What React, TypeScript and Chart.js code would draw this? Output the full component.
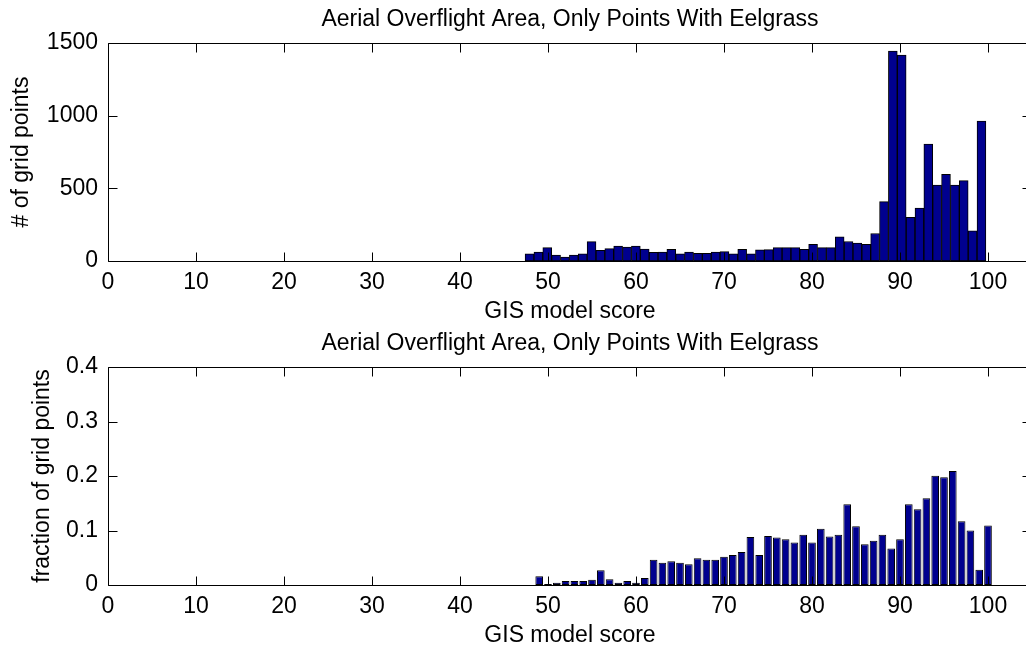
import React, { useEffect, useRef } from 'react';
import { Chart, registerables } from 'chart.js';

Chart.register(...registerables);

const FONT = '"Liberation Sans", Arial, Helvetica, sans-serif';
const FONT_SIZE = 23;

const TITLE = 'Aerial Overflight Area, Only Points With Eelgrass';
const X_LABEL = 'GIS model score';
const TOP_Y_LABEL = '# of grid points';
const BOTTOM_Y_LABEL = 'fraction of grid points';

const X_TICKS = [0, 10, 20, 30, 40, 50, 60, 70, 80, 90, 100];
const TOP_Y_TICKS = [0, 500, 1000, 1500];
const BOTTOM_Y_TICKS = [0, 0.1, 0.2, 0.3, 0.4];

// histogram bins (top panel)
const TOP_BIN_FIRST_CENTER = 47.9;
const TOP_BIN_WIDTH = 1.007;
const topCounts = [
  50, 62, 92, 41, 27, 41, 50, 133, 73, 85,
  103, 96, 103, 82, 60, 62, 80, 50, 62, 53,
  53, 62, 64, 50, 80, 50, 76, 78,
  92, 92, 92, 81, 115, 92, 92, 166, 134, 124,
  115, 189, 408, 1445, 1417, 300, 364, 804, 523, 597,
  523, 553, 207, 963,
];
const topBinCenters = topCounts.map((_, i) => TOP_BIN_FIRST_CENTER + i * TOP_BIN_WIDTH);

// bottom panel
const bottomScores = [
  49, 50, 51, 52, 53, 54, 55, 56, 57, 58, 59, 60, 61, 62, 63, 64, 65, 66, 67, 68,
  69, 70, 71, 72, 73, 74, 75, 76, 77, 78, 79, 80, 81, 82, 83, 84, 85, 86, 87, 88,
  89, 90, 91, 92, 93, 94, 95, 96, 97, 98, 99, 100,
];
const bottomFractions = [
  0.016, 0.002, 0.004, 0.0073, 0.0073, 0.0073, 0.0098, 0.027, 0.0104, 0.004,
  0.0073, 0.004, 0.0128, 0.0465, 0.041, 0.0434, 0.041, 0.038, 0.049, 0.0465,
  0.0465, 0.052, 0.055, 0.0606, 0.088, 0.055, 0.09, 0.087, 0.084, 0.078,
  0.092, 0.078, 0.103, 0.089, 0.092, 0.148, 0.108, 0.075, 0.081, 0.092,
  0.067, 0.084, 0.148, 0.139, 0.159, 0.2006, 0.1976, 0.209, 0.117, 0.1,
  0.028, 0.109,
];

const BAR_COLOR = '#00008F';
const TICK_LEN = 9;

type PanelOpts = {
  title: string;
  xLabel: string;
  yLabel: string;
  titleY: number;
  xLabelY: number;
  yLabelX: number;
};

const framePlugin = (o: PanelOpts) => ({
  id: 'matlabFrame',
  afterDraw(chart: any) {
    const { ctx, chartArea } = chart;
    const { left, right, top, bottom } = chartArea;
    const xs = chart.scales.x;
    const ys = chart.scales.y;
    ctx.save();
    ctx.strokeStyle = '#000';
    ctx.lineWidth = 1;
    const L = Math.round(left) + 0.5;
    const R = Math.round(right) - 0.5;
    const T = Math.round(top) + 0.5;
    const B = Math.round(bottom) + 0.5;
    ctx.beginPath();
    ctx.moveTo(L, T);
    ctx.lineTo(R, T);
    ctx.lineTo(R, B);
    ctx.lineTo(L, B);
    ctx.closePath();
    ctx.stroke();
    ctx.beginPath();
    for (const t of xs.ticks) {
      const px = Math.round(xs.getPixelForValue(t.value)) + 0.5;
      ctx.moveTo(px, B);
      ctx.lineTo(px, B - TICK_LEN);
      ctx.moveTo(px, T);
      ctx.lineTo(px, T + TICK_LEN);
    }
    for (const t of ys.ticks) {
      const py = Math.round(ys.getPixelForValue(t.value)) + 0.5;
      ctx.moveTo(L, py);
      ctx.lineTo(L + TICK_LEN, py);
      ctx.moveTo(R, py);
      ctx.lineTo(R - TICK_LEN, py);
    }
    ctx.stroke();

    ctx.fillStyle = '#000';
    ctx.font = `${FONT_SIZE}px ${FONT}`;
    ctx.textAlign = 'center';
    ctx.textBaseline = 'alphabetic';
    const cx = (left + right) / 2;
    ctx.fillText(o.title, cx, o.titleY);
    ctx.fillText(o.xLabel, cx, o.xLabelY);
    ctx.translate(o.yLabelX, (top + bottom) / 2);
    ctx.rotate(-Math.PI / 2);
    ctx.textBaseline = 'middle';
    ctx.fillText(o.yLabel, 0, 0);
    ctx.restore();
  },
});

function makeChart(
  canvas: HTMLCanvasElement,
  data: { x: number; y: number }[],
  barPct: number,
  yMax: number,
  yTicks: number[],
  yFmt: (v: number) => string,
  padTop: number,
  xAxisHeight: number,
  panel: PanelOpts
) {
  const tickFont = { family: FONT, size: FONT_SIZE };
  return new Chart(canvas, {
    type: 'bar',
    data: {
      datasets: [
        {
          data: data as any,
          backgroundColor: BAR_COLOR,
          borderColor: '#000',
          borderWidth: 1,
          borderSkipped: false,
          barPercentage: barPct,
          categoryPercentage: 1,
        },
      ],
    },
    options: {
      responsive: false,
      animation: false,
      devicePixelRatio: 1,
      layout: { padding: { top: padTop, left: 0, right: 8, bottom: 0 } },
      plugins: {
        legend: { display: false },
        tooltip: { enabled: false },
        title: { display: false },
      },
      scales: {
        x: {
          type: 'linear',
          min: 0,
          max: 105,
          offset: false,
          grid: { display: false, drawTicks: false },
          border: { display: false },
          ticks: {
            font: tickFont,
            color: '#000',
            padding: 8,
            maxRotation: 0,
            autoSkip: false,
            callback: (v: any) => String(v),
          },
          afterBuildTicks: (s: any) => {
            s.ticks = X_TICKS.map((v) => ({ value: v }));
          },
          afterFit: (s: any) => {
            s.height = xAxisHeight;
          },
        },
        y: {
          type: 'linear',
          min: 0,
          max: yMax,
          grid: { display: false, drawTicks: false },
          border: { display: false },
          ticks: {
            font: tickFont,
            color: '#000',
            padding: 10,
            autoSkip: false,
            callback: (v: any) => yFmt(Number(v)),
          },
          afterBuildTicks: (s: any) => {
            s.ticks = yTicks.map((v) => ({ value: v }));
          },
          afterFit: (s: any) => {
            s.width = 108;
          },
        },
      },
    } as any,
    plugins: [framePlugin(panel)],
  });
}

export default function App() {
  const topRef = useRef<HTMLCanvasElement>(null);
  const botRef = useRef<HTMLCanvasElement>(null);

  useEffect(() => {
    document.body.style.margin = '0';
    document.body.style.overflow = 'hidden';
    const topData = topBinCenters.map((x, i) => ({ x, y: topCounts[i] }));
    const botData = bottomScores.map((x, i) => ({ x, y: bottomFractions[i] }));
    const c1 = makeChart(
      topRef.current!,
      topData,
      1,
      1500,
      TOP_Y_TICKS,
      (v) => String(v),
      43,
      64,
      { title: TITLE, xLabel: X_LABEL, yLabel: TOP_Y_LABEL, titleY: 26, xLabelY: 318, yLabelX: 22 }
    );
    const c2 = makeChart(
      botRef.current!,
      botData,
      0.87,
      0.4,
      BOTTOM_Y_TICKS,
      (v) => (v === 0 ? '0' : v.toFixed(1)),
      42,
      66,
      { title: TITLE, xLabel: X_LABEL, yLabel: BOTTOM_Y_LABEL, titleY: 25, xLabelY: 317, yLabelX: 43 }
    );
    return () => {
      c1.destroy();
      c2.destroy();
    };
  }, []);

  return (
    <div
      style={{
        position: 'fixed',
        left: 0,
        top: 0,
        width: 1026,
        height: 651,
        overflow: 'hidden',
        background: '#fff',
      }}
    >
      <canvas ref={topRef} width={1040} height={325} style={{ position: 'absolute', left: 0, top: 0, display: 'block' }} />
      <canvas ref={botRef} width={1040} height={326} style={{ position: 'absolute', left: 0, top: 325, display: 'block' }} />
    </div>
  );
}
